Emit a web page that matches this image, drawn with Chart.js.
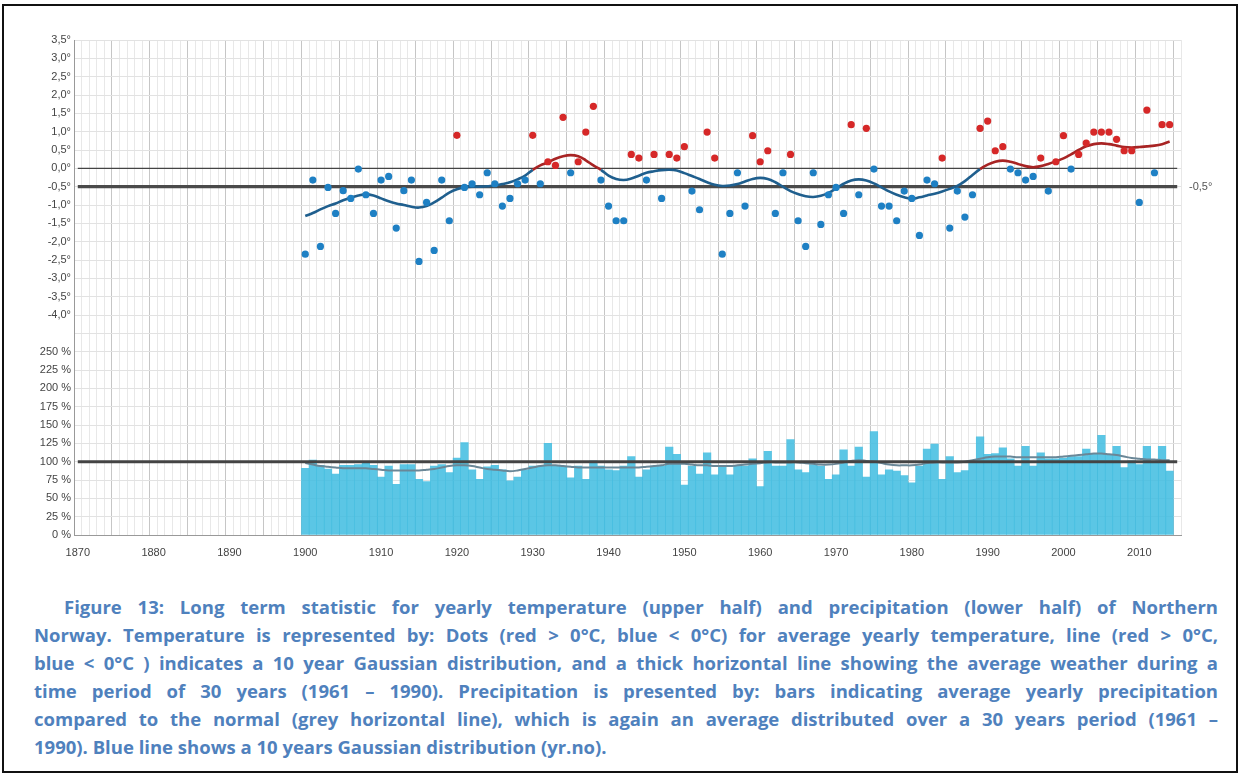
<!DOCTYPE html>
<html>
<head>
<meta charset="utf-8">
<script src="https://cdn.jsdelivr.net/npm/chart.js@4.4.1/dist/chart.umd.min.js"></script>
<style>
  html, body { margin: 0; padding: 0; background: #fff; }
  #frame { position: absolute; left: 2px; top: 4px; width: 1236px; height: 769px; border: 2px solid #111; box-sizing: border-box; }
  #wrap { position: absolute; left: 0; top: 0; width: 1240px; height: 565px; }
  #caption { position: absolute; left: 34px; top: 593px; width: 1184px; font-family: "Open Sans", Lato, sans-serif; font-weight: 700; font-size: 18.5px; line-height: 28px; color: #4f81bd; }
  #caption div { white-space: nowrap; }
  #caption div.first { padding-left: 30px; }
</style>
</head>
<body>
<div id="frame"></div>
<div id="wrap"><canvas id="myChart" width="1240" height="565"></canvas></div>
<div id="caption">
  <div class="first">Figure 13: Long term statistic for yearly temperature (upper half) and precipitation (lower half) of Northern</div>
  <div>Norway. Temperature is represented by: Dots (red &gt; 0°C, blue &lt; 0°C) for average yearly temperature, line (red &gt; 0°C,</div>
  <div>blue &lt; 0°C ) indicates a 10 year Gaussian distribution, and a thick horizontal line showing the average weather during a</div>
  <div>time period of 30 years (1961 – 1990). Precipitation is presented by: bars indicating average yearly precipitation</div>
  <div>compared to the normal (grey horizontal line), which is again an average distributed over a 30 years period (1961 –</div>
  <div class="last">1990). Blue line shows a 10 years Gaussian distribution (yr.no).</div>
</div>
<script>
// Data: one value per year, 1900-2014
const firstYear = 1900;
const axisYears = [1870, 2015];

// yearly temperature deviation (°C)
const temps = [
  -2.34, -0.32, -2.13, -0.52, -1.23, -0.61, -0.82, -0.02, -0.72, -1.23, // 1900s
  -0.32, -0.22, -1.63, -0.61, -0.32, -2.54, -0.93, -2.24, -0.32, -1.43, // 1910s
   0.90, -0.52, -0.42, -0.72, -0.12, -0.42, -1.03, -0.82, -0.42, -0.32, // 1920s
   0.90, -0.42,  0.18,  0.08,  1.39, -0.12,  0.18,  0.99,  1.69, -0.32, // 1930s
  -1.03, -1.43, -1.43,  0.38,  0.28, -0.32,  0.38, -0.82,  0.38,  0.28, // 1940s
   0.59, -0.62, -1.13,  0.99,  0.28, -2.34, -1.23, -0.12, -1.03,  0.89, // 1950s
   0.18,  0.48, -1.23, -0.12,  0.38, -1.43, -2.13, -0.12, -1.53, -0.72, // 1960s
  -0.52, -1.23,  1.19, -0.72,  1.09, -0.02, -1.03, -1.03, -1.43, -0.62, // 1970s
  -0.82, -1.83, -0.32, -0.42,  0.28, -1.63, -0.62, -1.33, -0.72,  1.09, // 1980s
   1.29,  0.48,  0.59, -0.02, -0.12, -0.32, -0.22,  0.28, -0.62,  0.18, // 1990s
   0.89, -0.02,  0.38,  0.69,  0.99,  0.99,  0.99,  0.79,  0.48,  0.48, // 2000s
  -0.93,  1.59, -0.12,  1.19,  1.19                                     // 2010s
];

// 10 year gaussian line for temperature
const tempSmooth = [
  -1.30, -1.22, -1.12, -1.03, -0.96, -0.87, -0.80, -0.74, -0.71, -0.74,
  -0.82, -0.90, -0.96, -1.00, -1.05, -1.07, -1.03, -0.93, -0.80, -0.66,
  -0.57, -0.52, -0.50, -0.50, -0.49, -0.47, -0.43, -0.38, -0.30, -0.20,
  -0.04,  0.08,  0.16,  0.26,  0.33,  0.36,  0.33,  0.22,  0.08, -0.04,
  -0.20, -0.29, -0.32, -0.28, -0.20, -0.12, -0.08, -0.05, -0.04, -0.06,
  -0.13, -0.21, -0.29, -0.38, -0.45, -0.48, -0.47, -0.43, -0.36, -0.29,
  -0.26, -0.29, -0.38, -0.50, -0.62, -0.70, -0.76, -0.78, -0.75, -0.67,
  -0.55, -0.42, -0.33, -0.30, -0.33, -0.41, -0.52, -0.63, -0.72, -0.79,
  -0.83, -0.79, -0.74, -0.69, -0.63, -0.56, -0.48, -0.35, -0.18, -0.02,
   0.10,  0.18,  0.21,  0.18,  0.12,  0.06,  0.03,  0.06,  0.12,  0.19,
   0.27,  0.38,  0.50,  0.60,  0.66,  0.68,  0.66,  0.62,  0.58,  0.57,
   0.58,  0.60,  0.62,  0.66,  0.73
];

// yearly precipitation, % of normal
const precip = [
   91, 102,  95,  90,  83,  95,  95,  96,  99,  95,
   79,  94,  69,  96,  96,  76,  73,  94,  96,  85,
  105, 126,  89,  76,  93,  95,  89,  74,  79,  89,
   94,  94, 125,  94,  94,  78,  94,  76, 101,  94,
   89,  88,  94, 107,  79,  89,  94,  94, 120, 110,
   68,  94,  83, 112,  82,  94,  82,  94,  94, 104,
   66, 114,  94,  94, 130,  89,  85,  96,  94,  76,
   82, 116,  94, 120,  79, 141,  82,  89,  87,  81,
   71,  94, 117, 124,  76, 107,  85,  88, 101, 134,
  110, 111, 119, 104,  94, 121,  94, 112, 104, 104,
  105, 107, 107, 117, 110, 136, 110, 121,  92, 101,
   96, 121,  99, 121,  87
];

// 10 year gaussian line for precipitation
const precipSmooth = [
   98,  96,  94,  93,  92,  91,  91,  91,  91,  90,
   89,  88,  88,  88,  88,  88,  89,  90,  92,  94,
   95,  95,  94,  92,  90,  89,  88,  87,  88,  90,
   92,  94,  95,  95,  94,  93,  92,  92,  92,  92,
   92,  92,  92,  92,  92,  93,  94,  95,  97,  97,
   97,  96,  95,  95,  94,  94,  94,  95,  96,  97,
   98,  99,  99,  99,  99,  99,  98,  97,  96,  96,
   97,  99, 101, 102, 101, 100,  98,  96,  95,  95,
   95,  96,  98,  99,  99,  99,  99, 100, 102, 104,
  106, 107, 107, 107, 106, 106, 106, 106, 106, 106,
  107, 108, 109, 110, 111, 111, 110, 109, 107, 105,
  104, 103, 103, 102, 102
];

const tempNormal = -0.5;
const tempZero = 0;
const precipNormal = 100;

const tempTicks = [-4.5, -4, -3.5, -3, -2.5, -2, -1.5, -1, -0.5, 0, 0.5, 1, 1.5, 2, 2.5, 3, 3.5];
const precipTicks = [0, 25, 50, 75, 100, 125, 150, 175, 200, 225, 250, 275];

const RED = 'rgb(214,40,40)';
const BLUE = 'rgb(30,128,196)';
const TICK_FONT = { family: 'Arial, "Liberation Sans", sans-serif', size: 11 };

function pts(arr) {
  return arr.map((v, i) => ({ x: firstYear + i, y: v }));
}
function flat(v) {
  return axisYears.map(x => ({ x: x, y: v }));
}
function yearTicks() {
  const t = [];
  for (let y = axisYears[0]; y <= axisYears[1]; y++) t.push({ value: y });
  return t;
}

// right-hand label for the 30 year normal
const normalLabel = {
  id: 'normalLabel',
  afterDatasetsDraw(chart) {
    const c = chart.ctx;
    const y = chart.scales.yT.getPixelForValue(tempNormal);
    c.save();
    c.font = '11px Arial, "Liberation Sans", sans-serif';
    c.fillStyle = '#555';
    c.textBaseline = 'middle';
    c.fillText('-0,5°', chart.chartArea.right + 8, y);
    c.restore();
  }
};

const ctx = document.getElementById('myChart').getContext('2d');
const myChart = new Chart(ctx, {
  type: 'bar',
  data: {
    datasets: [
      {
        type: 'scatter',
        data: pts(temps),
        xAxisID: 'x', yAxisID: 'yT',
        pointRadius: 3.6,
        pointBorderWidth: 0,
        pointBackgroundColor: c => (c.raw && c.raw.y > 0 ? RED : BLUE),
        order: 0
      },
      {
        type: 'line',
        data: pts(tempSmooth),
        xAxisID: 'x', yAxisID: 'yT',
        borderWidth: 2.6,
        pointRadius: 0,
        tension: 0.4,
        borderColor: '#1f5f8e',
        segment: {
          borderColor: s => ((s.p0.parsed.y + s.p1.parsed.y) / 2 > 0 ? '#a82424' : '#1f5f8e')
        },
        order: 1
      },
      {
        type: 'line',
        data: flat(tempNormal),
        xAxisID: 'x', yAxisID: 'yT',
        borderColor: '#4a4a4a', borderWidth: 3.2, pointRadius: 0,
        order: 2
      },
      {
        type: 'line',
        data: flat(tempZero),
        xAxisID: 'x', yAxisID: 'yT',
        borderColor: '#444', borderWidth: 1.4, pointRadius: 0,
        order: 3
      },
      {
        type: 'line',
        data: flat(precipNormal),
        xAxisID: 'x', yAxisID: 'yP',
        borderColor: '#444', borderWidth: 3, pointRadius: 0,
        order: 3
      },
      {
        type: 'line',
        data: pts(precipSmooth),
        xAxisID: 'x', yAxisID: 'yP',
        borderColor: '#6a8797', borderWidth: 2, pointRadius: 0, tension: 0.4,
        order: 4
      },
      {
        type: 'bar',
        data: pts(precip),
        xAxisID: 'x', yAxisID: 'yP',
        backgroundColor: 'rgba(62,188,225,0.85)',
        borderWidth: 0,
        barPercentage: 1,
        categoryPercentage: 1,
        order: 5
      }
    ]
  },
  options: {
    responsive: false,
    animation: false,
    events: [],
    layout: { padding: { left: 0, right: 59, top: 40, bottom: 0 } },
    plugins: { legend: { display: false }, tooltip: { enabled: false } },
    scales: {
      x: {
        type: 'linear',
        min: axisYears[0], max: axisYears[1],
        afterBuildTicks: axis => { axis.ticks = yearTicks(); },
        afterFit: s => { s.height = 30; },
        ticks: {
          autoSkip: false, maxRotation: 0, padding: 11,
          color: '#444', font: TICK_FONT,
          callback: v => (v % 10 === 0 ? String(v) : '')
        },
        grid: {
          drawTicks: false,
          color: c => (c.tick && c.tick.value % 5 === 0 ? '#c6c6c6' : '#e8e8e8')
        },
        border: { color: '#999' }
      },
      yP: {
        type: 'linear', position: 'left', stack: 'all', stackWeight: 11,
        min: 0, max: 275,
        afterBuildTicks: axis => { axis.ticks = precipTicks.map(v => ({ value: v })); },
        afterFit: s => { s.width = 74; },
        ticks: {
          autoSkip: false, padding: 3, color: '#444', font: TICK_FONT,
          callback: v => (v === 275 ? '' : v + ' %')
        },
        grid: { drawTicks: false, color: '#e2e2e2' },
        border: { color: '#999' }
      },
      yT: {
        type: 'linear', position: 'left', stack: 'all', stackWeight: 16,
        min: -4.5, max: 3.5,
        afterBuildTicks: axis => { axis.ticks = tempTicks.map(v => ({ value: v })); },
        afterFit: s => { s.width = 74; },
        ticks: {
          autoSkip: false, padding: 3, color: '#444', font: TICK_FONT,
          callback: v => (v === -4.5 ? '' : v.toFixed(1).replace('.', ',') + '°')
        },
        grid: { drawTicks: false, color: '#e2e2e2' },
        border: { color: '#999' }
      }
    }
  },
  plugins: [normalLabel]
});

// justify caption lines to the full width (last line left as is)
document.querySelectorAll('#caption div').forEach(d => {
  if (d.classList.contains('last')) return;
  const pad = d.classList.contains('first') ? 30 : 0;
  const target = 1184 - pad;
  const span = document.createElement('span');
  span.textContent = d.textContent;
  d.textContent = '';
  d.appendChild(span);
  const w = span.getBoundingClientRect().width;
  const gaps = (span.textContent.match(/ /g) || []).length;
  if (gaps) d.style.wordSpacing = ((target - w) / gaps) + 'px';
});
</script>
</body>
</html>
